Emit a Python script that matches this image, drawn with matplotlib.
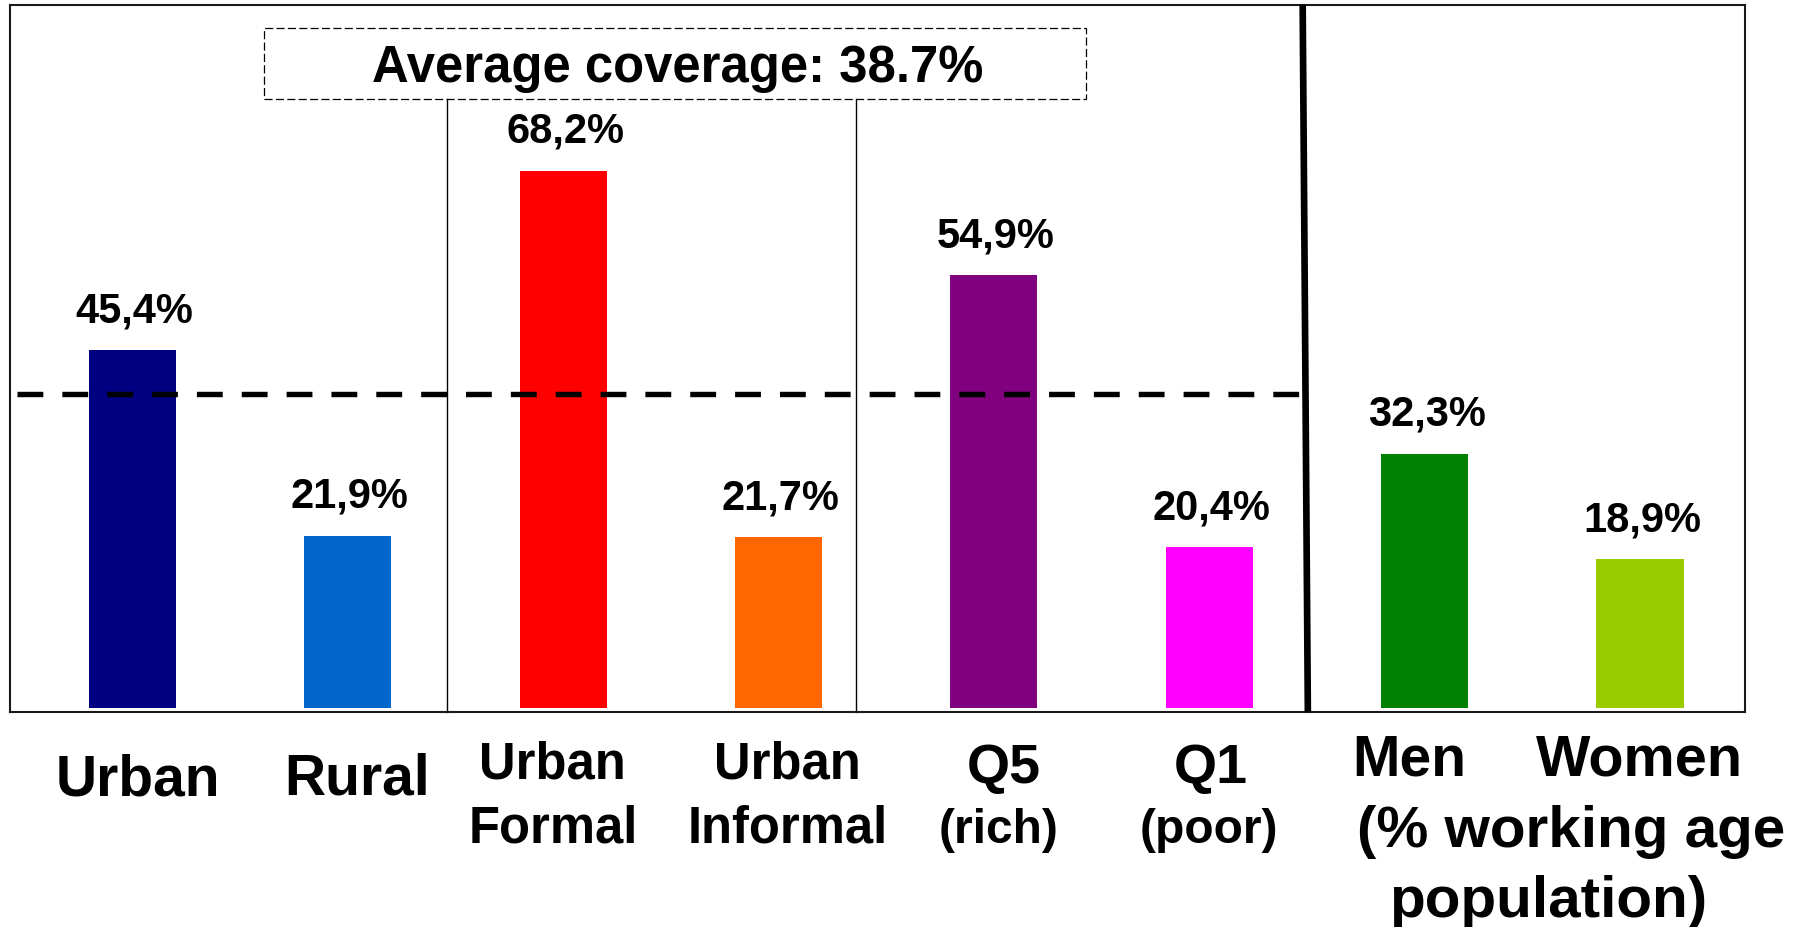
import matplotlib
matplotlib.use("Agg")
import matplotlib.pyplot as plt
from matplotlib.patches import Rectangle

# Coverage by group
GROUPS = ["Urban", "Rural", "Urban Formal", "Urban Informal", "Q5", "Q1", "Men", "Women"]
COVERAGE = [45.4, 21.9, 68.2, 21.7, 54.9, 20.4, 32.3, 18.9]
BAR_COLORS = ["#000080", "#0066CC", "#FF0000", "#FF6600",
              "#800080", "#FF00FF", "#008000", "#99CC00"]
AVERAGE_TEXT = "Average coverage: 38.7%"
AVERAGE_LINE = 39.9

# Category labels below the axis: (text, x offset px, baseline px below axis, size)
LABEL_LINES = [
    [("Urban", 5, 83, 41)],
    [("Rural", 9, 82, 41)],
    [("Urban", -11, 66, 36.5), ("Formal", -10, 130, 36.5)],
    [("Urban", 9, 66, 36.5), ("Informal", 9, 130, 36.5)],
    [("Q5", 10, 71, 40), ("(rich)", 5, 131, 34.5)],
    [("Q1", 2, 71, 40), ("(poor)", 0, 131, 34.5)],
    [("Men", -15, 63, 41)],
    [("Women", 0, 63, 41.5), ("(% working age", -69, 135, 42), ("population)", -92, 205, 42)],
]

PX = 0.72  # pixels -> points at dpi 100

plt.rcParams["font.family"] = ["Liberation Sans", "DejaVu Sans"]
plt.rcParams["font.weight"] = "bold"

fig = plt.figure(figsize=(18.01, 9.28), dpi=100)
ax = fig.add_axes([10 / 1801, (928 - 712.5) / 928, 1735 / 1801, 706.7 / 928])

x = list(range(len(GROUPS)))
ax.bar(x, COVERAGE, width=0.405, color=BAR_COLORS, zorder=2)

ax.set_xlim(-0.5688, 7.488)
ax.set_ylim(-0.41, 89.22)
ax.set_xticks([])
ax.set_yticks([])
for side in ["left", "right", "top", "bottom"]:
    ax.spines[side].set_linewidth(1.5)
    ax.spines[side].set_color("#1a1a1a")

# value labels above the bars
for xi, v in zip(x, COVERAGE):
    ax.annotate(f"{v:.1f}%".replace(".", ","), xy=(xi, v), xytext=(1.5, 20.7),
                textcoords="offset points", ha="center", va="baseline",
                fontsize=30, fontweight="bold")

# average line
ax.plot([-0.536, 5.434], [AVERAGE_LINE, AVERAGE_LINE], color="black",
        linewidth=3.9, dashes=(4.77, 3.51), zorder=3)

# section separators
ax.plot([1.4605, 1.4605], [77.21, -0.5], color="black", linewidth=1.0, clip_on=False, zorder=1)
ax.plot([3.362, 3.362], [77.21, -0.5], color="black", linewidth=1.0, clip_on=False, zorder=1)
ax.plot([5.434, 5.458], [89.22, -0.5], color="black", linewidth=4.8, clip_on=False,
        solid_capstyle="butt", zorder=4)

# average coverage box
ax.add_patch(Rectangle((0.612, 77.21), 4.428 - 0.612, 86.28 - 77.21, fill=False,
                       edgecolor="black", linewidth=0.9, linestyle=(0, (6.5, 2.6)), zorder=3))
ax.text(2.533, 79.6, AVERAGE_TEXT, ha="center", va="baseline", fontsize=36.5, fontweight="bold")

# category labels
for xi, lines in zip(x, LABEL_LINES):
    for text, dx, dy, size in lines:
        ax.annotate(text, xy=(xi, 0), xycoords=("data", "axes fraction"),
                    xytext=(dx * PX, -dy * PX), textcoords="offset points",
                    ha="center", va="baseline", fontsize=size, fontweight="bold",
                    annotation_clip=False)

fig.savefig("out.png", dpi=100)
